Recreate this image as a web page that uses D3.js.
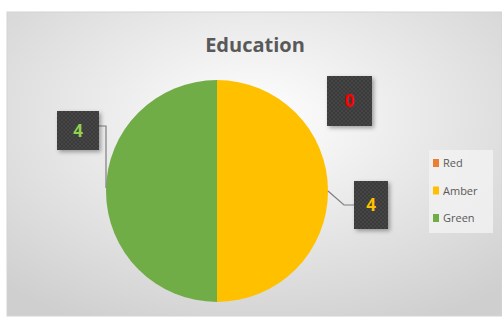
<!DOCTYPE html>
<html>
<head>
<meta charset="utf-8">
<script src="https://cdn.jsdelivr.net/npm/d3@7"></script>
<style>
  body { margin: 0; background: #fff; }
  svg { display: block; font-family: 'Open Sans', 'Liberation Sans', sans-serif; }
</style>
</head>
<body>
<svg id="chart" width="502" height="317"></svg>
<script>
'use strict';

var categories = ['Red', 'Amber', 'Green'];
var values = [0, 4, 4];
var sliceColors = ['#ED7D31', '#FFC000', '#70AD47'];
var labelColors = ['#FF0000', '#FFC000', '#92D050'];

var width = 502, height = 317;
var cx = 217, cy = 191, radius = 111;

var svg = d3.select('#chart');
var defs = svg.append('defs');

// background: soft radial gradient, white in the middle fading to grey
var bg = defs.append('radialGradient')
    .attr('id', 'bg')
    .attr('cx', '50%').attr('cy', '35%').attr('r', '75%');
bg.append('stop').attr('offset', '0%').attr('stop-color', '#ffffff');
bg.append('stop').attr('offset', '100%').attr('stop-color', '#cfcfcf');

// dotted dark fill for the data label boxes
var pat = defs.append('pattern')
    .attr('id', 'dots')
    .attr('width', 4).attr('height', 4)
    .attr('patternUnits', 'userSpaceOnUse');
pat.append('rect').attr('width', 4).attr('height', 4).attr('fill', '#3a3a3a');
pat.append('circle').attr('cx', 1).attr('cy', 1).attr('r', 0.7).attr('fill', '#555');
pat.append('circle').attr('cx', 3).attr('cy', 3).attr('r', 0.7).attr('fill', '#555');

var shadow = defs.append('filter').attr('id', 'shadow')
    .attr('x', '-30%').attr('y', '-30%').attr('width', '160%').attr('height', '160%');
shadow.append('feDropShadow')
    .attr('dx', 2).attr('dy', 2).attr('stdDeviation', 2)
    .attr('flood-color', '#000').attr('flood-opacity', 0.35);

svg.append('rect')
    .attr('x', 7).attr('y', 12)
    .attr('width', width - 7).attr('height', height - 13)
    .attr('fill', 'url(#bg)')
    .attr('stroke', '#d4d4d4');

svg.append('text')
    .attr('x', 255).attr('y', 52)
    .attr('text-anchor', 'middle')
    .attr('font-size', 20).attr('font-weight', 'bold')
    .attr('fill', '#595959')
    .text('Education');

var pie = d3.pie().sort(null).value(function(d) { return d; });
var arcs = pie(values);
var arc = d3.arc().innerRadius(0).outerRadius(radius);

var g = svg.append('g').attr('transform', 'translate(' + cx + ',' + cy + ')');
g.selectAll('path.slice')
    .data(arcs)
  .enter().append('path')
    .attr('class', 'slice')
    .attr('d', arc)
    .attr('fill', function(d, i) { return sliceColors[i]; });

// data label boxes (x, y, w, h) and their leader lines, in page coordinates
var labelBoxes = [
  {x: 327, y: 76, w: 45, h: 50},
  {x: 354, y: 181, w: 34, h: 48},
  {x: 57, y: 111, w: 42, h: 39}
];
var leaders = [
  null,
  [[cx + radius, cy], [344, 205], [354, 205]],
  [[99, 126], [106, 126], [106, 188]]
];

var line = d3.line();
svg.selectAll('path.leader')
    .data(leaders.filter(function(d) { return d; }))
  .enter().append('path')
    .attr('class', 'leader')
    .attr('d', line)
    .attr('fill', 'none')
    .attr('stroke', '#7f7f7f')
    .attr('stroke-width', 1.2);

var labels = svg.selectAll('g.label')
    .data(arcs)
  .enter().append('g')
    .attr('class', 'label')
    .attr('transform', function(d, i) {
      return 'translate(' + labelBoxes[i].x + ',' + labelBoxes[i].y + ')';
    });
labels.append('rect')
    .attr('width', function(d, i) { return labelBoxes[i].w; })
    .attr('height', function(d, i) { return labelBoxes[i].h; })
    .attr('fill', 'url(#dots)')
    .attr('filter', 'url(#shadow)');
labels.append('text')
    .attr('x', function(d, i) { return labelBoxes[i].w / 2; })
    .attr('y', function(d, i) { return labelBoxes[i].h / 2 + 6; })
    .attr('text-anchor', 'middle')
    .attr('font-size', 17).attr('font-weight', 'bold')
    .attr('fill', function(d, i) { return labelColors[i]; })
    .text(function(d) { return d.data; });

// legend
var legend = svg.append('g').attr('transform', 'translate(429,150)');
legend.append('rect')
    .attr('width', 64).attr('height', 83)
    .attr('fill', '#f2f2f2').attr('fill-opacity', 0.8);
var y = d3.scalePoint().domain(categories).range([13, 68]);
var items = legend.selectAll('g.item')
    .data(categories)
  .enter().append('g')
    .attr('class', 'item')
    .attr('transform', function(d) { return 'translate(0,' + y(d) + ')'; });
items.append('rect')
    .attr('x', 4).attr('y', -4)
    .attr('width', 6).attr('height', 8)
    .attr('fill', function(d, i) { return sliceColors[i]; });
items.append('text')
    .attr('x', 14).attr('y', 4)
    .attr('font-size', 11)
    .attr('fill', '#595959')
    .text(function(d) { return d; });
</script>
</body>
</html>
